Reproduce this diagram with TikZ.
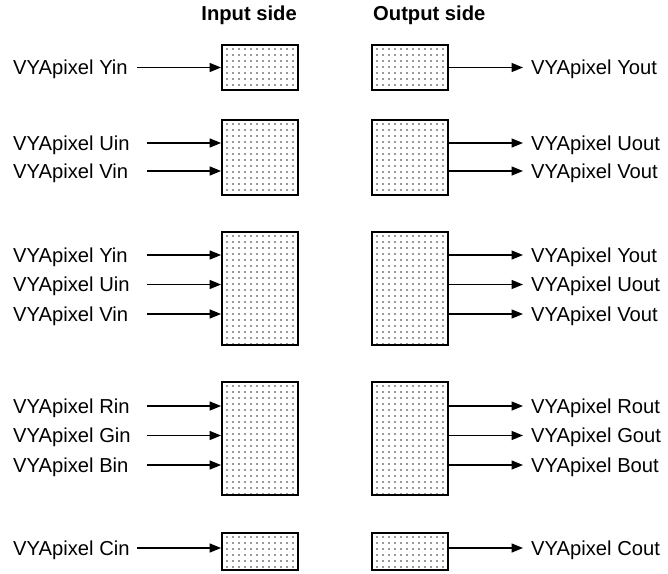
\documentclass[tikz,border=0pt]{standalone}
\usepackage{fontspec}
\setmainfont{Liberation Sans}
\usetikzlibrary{arrows.meta}
\begin{document}
\begin{tikzpicture}[x=1pt,y=-1pt,
  lbl/.style={inner sep=0pt, font=\fontsize{20.2}{24}\selectfont},
  ttl/.style={inner sep=0pt, font=\fontsize{20.2}{24}\selectfont\bfseries},
  dotbox/.style={draw, line width=1.8pt, minimum width=76pt, inner sep=0pt,
    path picture={\foreach \i in {0,...,12}{\foreach \j in {0,...,19}{
      \fill[black!80] (path picture bounding box.north west) ++(5+6*\i,4+6*\j) circle[radius=0.8pt];}}}},
  arr/.style={line width=1.4pt, -{Triangle[length=11.5pt,width=9pt]}}]
\useasboundingbox (0,0) rectangle (668,573);

% titles
\node[ttl, anchor=base east] (tin) at (297,20.5) {Input side};
\node[ttl, anchor=base west] (tout) at (373,20.5) {Output side};

% boxes
\node[dotbox, minimum height=45pt] (i1) at (260,67.5) {};
\node[dotbox, minimum height=75pt] (i2) at (260,157.5) {};
\node[dotbox, minimum height=113pt] (i3) at (260,288.5) {};
\node[dotbox, minimum height=113pt] (i4) at (260,438.5) {};
\node[dotbox, minimum height=37pt] (i5) at (260,551.5) {};
\node[dotbox, minimum height=45pt] (o1) at (410,67.5) {};
\node[dotbox, minimum height=75pt] (o2) at (410,157.5) {};
\node[dotbox, minimum height=113pt] (o3) at (410,288.5) {};
\node[dotbox, minimum height=113pt] (o4) at (410,438.5) {};
\node[dotbox, minimum height=37pt] (o5) at (410,551.5) {};

% input rows: name / label / y / line start / box
\foreach \n/\t/\y/\xs/\b in {a/Yin/67.5/137/i1, b/Uin/143/147/i2, c/Vin/171/147/i2,
    d/Yin/255/147/i3, e/Uin/284.5/147/i3, f/Vin/314/147/i3,
    g/Rin/406/147/i4, h/Gin/435.5/147/i4, k/Bin/465/147/i4, m/Cin/548/137/i5}{
  \node[lbl, anchor=base west] (L\n) at (13,\y+7.3) {VYApixel \t};
  \coordinate (s\n) at (\xs,\y);
  \draw[arr] (s\n) -- (s\n -| \b.west);
}

% output rows
\foreach \n/\t/\y/\b in {a/Yout/67.5/o1, b/Uout/143/o2, c/Vout/171/o2,
    d/Yout/255/o3, e/Uout/284.5/o3, f/Vout/314/o3,
    g/Rout/406/o4, h/Gout/435.5/o4, k/Bout/465/o4, m/Cout/548/o5}{
  \node[lbl, anchor=base west] (R\n) at (531,\y+7.3) {VYApixel \t};
  \coordinate (e\n) at (523,\y);
  \draw[arr] (e\n -| \b.east) -- (e\n);
}
\end{tikzpicture}
\end{document}
